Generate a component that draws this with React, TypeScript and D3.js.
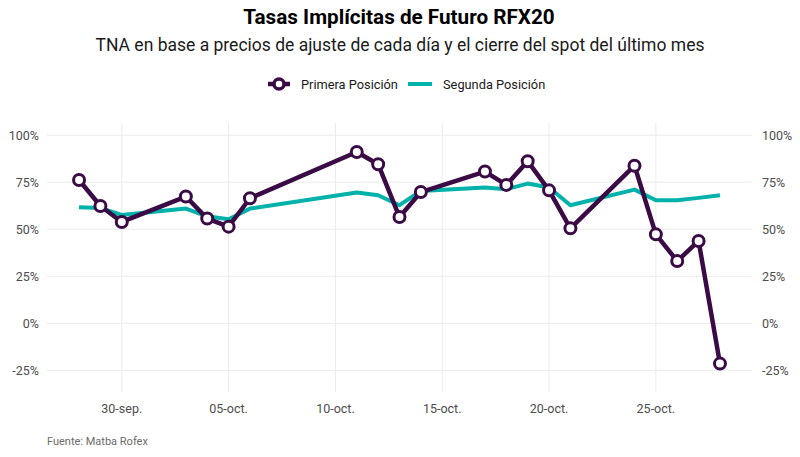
import { useEffect, useRef } from 'react';
import * as d3 from 'd3';

const dates = [
  '2022-09-28', '2022-09-29', '2022-09-30', '2022-10-03', '2022-10-04', '2022-10-05', '2022-10-06',
  '2022-10-11', '2022-10-12', '2022-10-13', '2022-10-14', '2022-10-17', '2022-10-18', '2022-10-19',
  '2022-10-20', '2022-10-21', '2022-10-24', '2022-10-25', '2022-10-26', '2022-10-27', '2022-10-28',
];
const primera = [
  76.2, 62.4, 53.9, 67.4, 55.7, 51.4, 66.5, 91.1, 84.6, 56.5, 69.8,
  80.7, 73.6, 86.2, 70.7, 50.5, 83.8, 47.3, 33.1, 43.8, -21.4,
];
const segunda = [
  61.7, 61.3, 57.6, 61.0, 56.9, 55.3, 61.0, 69.5, 68.1, 62.8, 70.4,
  72.2, 71.3, 74.3, 72.2, 62.8, 71.1, 65.4, 65.4, 66.7, 68.1,
];
const yTicks = [-25, 0, 25, 50, 75, 100];
const xTicks = ['2022-09-30', '2022-10-05', '2022-10-10', '2022-10-15', '2022-10-20', '2022-10-25'];
const monthNames = ['ene.', 'feb.', 'mar.', 'abr.', 'may.', 'jun.', 'jul.', 'ago.', 'sep.', 'oct.', 'nov.', 'dic.'];

const PURPLE = '#3a0b45';
const TEAL = '#00b2aa';

export default function App() {
  const ref = useRef<SVGSVGElement | null>(null);

  useEffect(() => {
    if (!ref.current) return;
    const svg = d3.select(ref.current);
    svg.selectAll('*').remove();

    const width = 800;
    const height = 457;
    const panel = { left: 47, right: 752, top: 123, bottom: 392 };
    const font = 'Roboto, sans-serif';

    const parse = d3.timeParse('%Y-%m-%d');
    const xs = dates.map((d) => parse(d)!);
    const [d0, d1] = d3.extent(xs) as [Date, Date];
    const pad = (d1.getTime() - d0.getTime()) * 0.05;

    const x = d3.scaleTime()
      .domain([new Date(d0.getTime() - pad), new Date(d1.getTime() + pad)])
      .range([panel.left, panel.right]);

    const y = d3.scaleLinear()
      .domain([-30 - 6.5, 100 + 6.5])
      .range([panel.bottom, panel.top]);

    svg.attr('width', width).attr('height', height).style('font-family', font);

    svg.append('rect').attr('width', width).attr('height', height).attr('fill', '#fff');

    // grid
    const grid = svg.append('g');
    yTicks.forEach((t) => {
      grid.append('line')
        .attr('x1', panel.left).attr('x2', panel.right)
        .attr('y1', y(t)).attr('y2', y(t))
        .attr('stroke', '#ebebeb').attr('stroke-width', 1);
    });
    xTicks.forEach((t) => {
      const xv = x(parse(t)!);
      grid.append('line')
        .attr('x1', xv).attr('x2', xv)
        .attr('y1', panel.top).attr('y2', panel.bottom)
        .attr('stroke', '#ebebeb').attr('stroke-width', 1);
    });

    // axis labels
    const labels = svg.append('g').attr('font-size', 12.5).attr('fill', '#4d4d4d');
    yTicks.forEach((t) => {
      labels.append('text')
        .attr('x', 39).attr('y', y(t)).attr('dy', '0.36em')
        .attr('text-anchor', 'end').text(`${t}%`);
      labels.append('text')
        .attr('x', 762).attr('y', y(t)).attr('dy', '0.36em')
        .attr('text-anchor', 'start').text(`${t}%`);
    });
    xTicks.forEach((t) => {
      const d = parse(t)!;
      labels.append('text')
        .attr('x', x(d)).attr('y', 408).attr('dy', '0.36em')
        .attr('text-anchor', 'middle')
        .text(`${d3.timeFormat('%d')(d)}-${monthNames[d.getMonth()]}`);
    });

    // series
    const line = d3.line<number>()
      .x((_, i) => x(xs[i]))
      .y((v) => y(v));

    svg.append('path')
      .attr('d', line(segunda)!)
      .attr('fill', 'none')
      .attr('stroke', TEAL)
      .attr('stroke-width', 4)
      .attr('stroke-linejoin', 'round');

    svg.append('path')
      .attr('d', line(primera)!)
      .attr('fill', 'none')
      .attr('stroke', PURPLE)
      .attr('stroke-width', 4.5)
      .attr('stroke-linejoin', 'round');

    svg.append('g')
      .selectAll('circle')
      .data(primera)
      .join('circle')
      .attr('cx', (_, i) => x(xs[i]))
      .attr('cy', (v) => y(v))
      .attr('r', 5.5)
      .attr('fill', '#fff')
      .attr('stroke', PURPLE)
      .attr('stroke-width', 3);

    // titles
    svg.append('text')
      .attr('x', 399).attr('y', 24)
      .attr('text-anchor', 'middle')
      .attr('font-size', 20.7).attr('font-weight', 700).attr('fill', '#000')
      .text('Tasas Implícitas de Futuro RFX20');

    svg.append('text')
      .attr('x', 400).attr('y', 51)
      .attr('text-anchor', 'middle')
      .attr('font-size', 17.5).attr('fill', '#1a1a1a')
      .text('TNA en base a precios de ajuste de cada día y el cierre del spot del último mes');

    // legend
    const legend = svg.append('g').attr('transform', 'translate(0,84)');
    legend.append('line')
      .attr('x1', 268).attr('x2', 290).attr('y1', 0).attr('y2', 0)
      .attr('stroke', PURPLE).attr('stroke-width', 4.5);
    legend.append('circle')
      .attr('cx', 279).attr('cy', 0).attr('r', 5)
      .attr('fill', '#fff').attr('stroke', PURPLE).attr('stroke-width', 3.5);
    legend.append('text')
      .attr('x', 301).attr('y', 0).attr('dy', '0.36em')
      .attr('font-size', 12.8).attr('fill', '#1a1a1a')
      .text('Primera Posición');
    legend.append('line')
      .attr('x1', 408).attr('x2', 432).attr('y1', 0).attr('y2', 0)
      .attr('stroke', TEAL).attr('stroke-width', 4);
    legend.append('text')
      .attr('x', 443).attr('y', 0).attr('dy', '0.36em')
      .attr('font-size', 12.8).attr('fill', '#1a1a1a')
      .text('Segunda Posición');

    // caption
    svg.append('text')
      .attr('x', 47).attr('y', 441).attr('dy', '0.36em')
      .attr('font-size', 11).attr('fill', '#6b6b6b')
      .text('Fuente: Matba Rofex');
  }, []);

  return <svg ref={ref} style={{ position: 'absolute', left: 0, top: 0, display: 'block' }}></svg>;
}
